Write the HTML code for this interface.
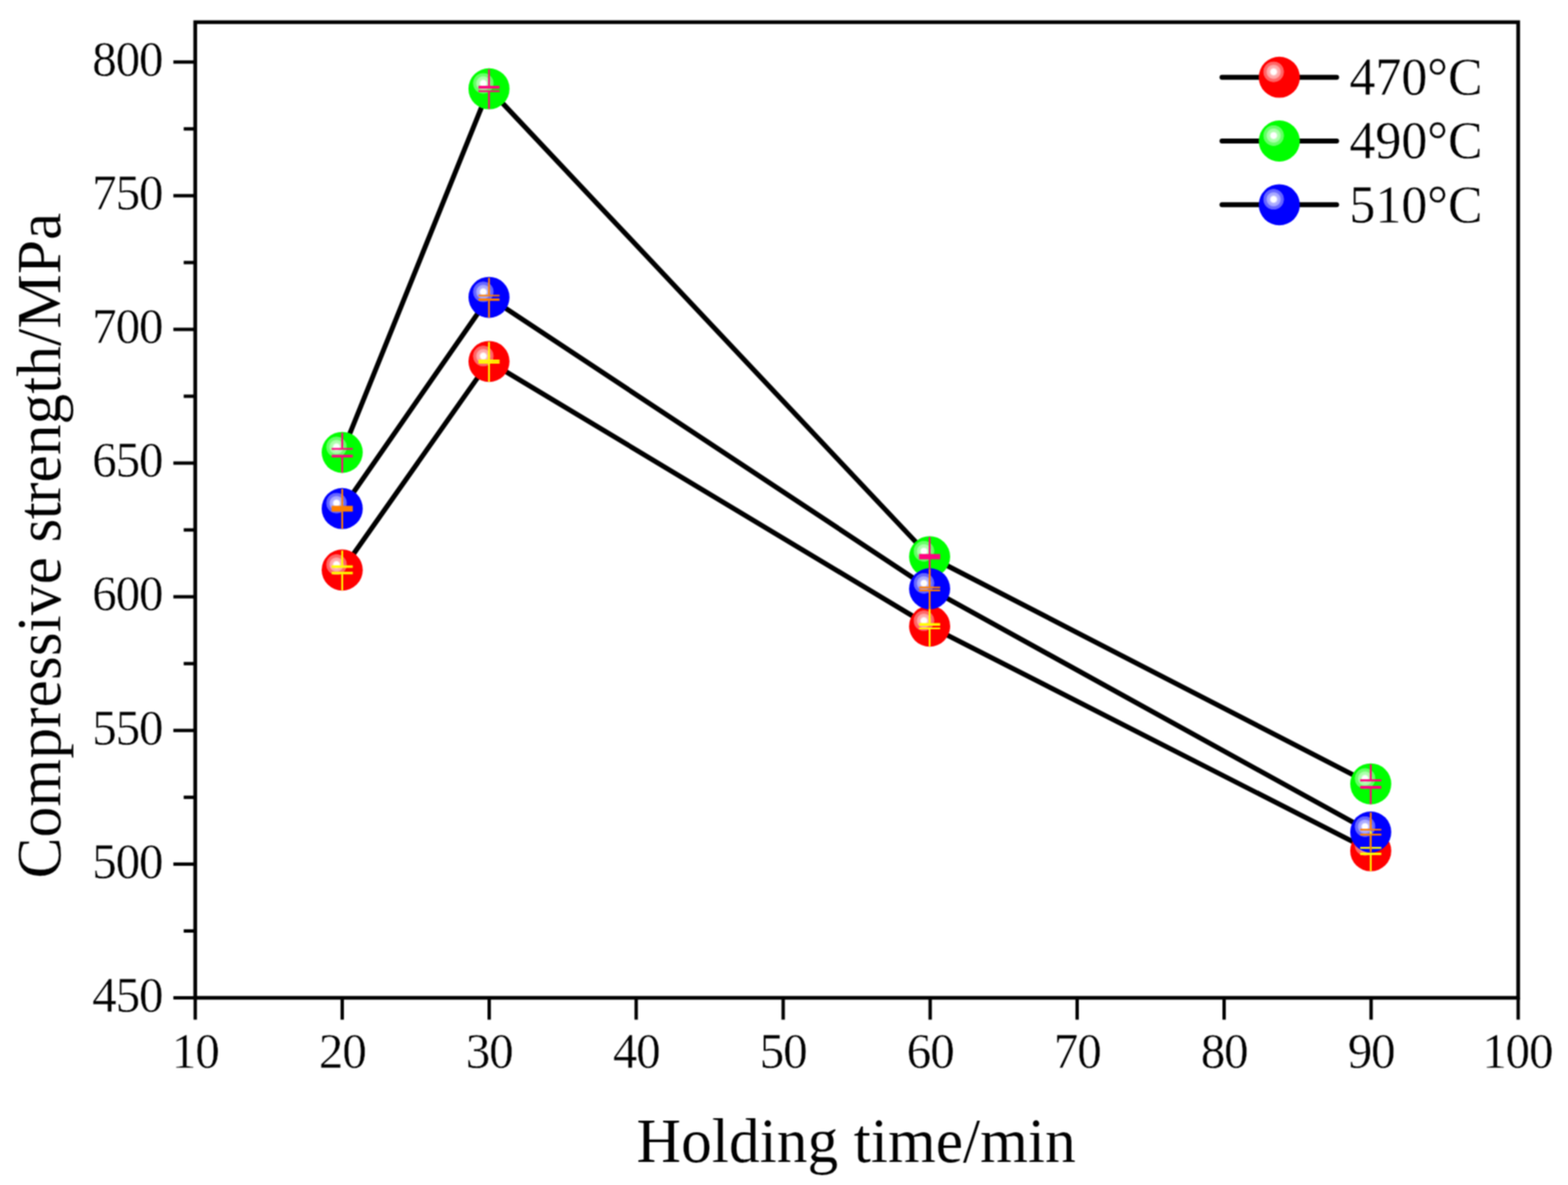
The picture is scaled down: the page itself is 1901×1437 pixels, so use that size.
<!DOCTYPE html>
<html lang="en"><head><meta charset="utf-8"><title>Compressive strength vs holding time</title>
<style>
html,body{margin:0;padding:0;background:#fff;}
body{width:1901px;height:1437px;}
svg{display:block;}
text{font-family:"Liberation Serif",serif;fill:#000;}
.tk{font-size:60.7px;letter-spacing:-1.35px;stroke:#fff;stroke-width:0.45px;}
.tt{font-size:76.6px;stroke:#fff;stroke-width:0.15px;}
.lg{font-size:64.7px;stroke:#fff;stroke-width:0.3px;}
</style></head><body>
<svg width="1901" height="1437" viewBox="0 0 1901 1437" role="img" aria-label="Compressive strength versus holding time at 470, 490 and 510 degrees Celsius">
<defs>
<radialGradient id="hl" cx="0.5" cy="0.5" r="0.5"><stop offset="0" stop-color="#fff" stop-opacity="1"/><stop offset="0.25" stop-color="#fff" stop-opacity="1"/><stop offset="0.39" stop-color="#fff" stop-opacity="0.70"/><stop offset="0.62" stop-color="#fff" stop-opacity="0.64"/><stop offset="0.70" stop-color="#fff" stop-opacity="0.42"/><stop offset="0.94" stop-color="#fff" stop-opacity="0.37"/><stop offset="1" stop-color="#fff" stop-opacity="0"/></radialGradient>
<filter id="soft" filterUnits="userSpaceOnUse" x="0" y="0" width="1901" height="1437" color-interpolation-filters="sRGB"><feConvolveMatrix order="3" kernelMatrix="1 2 1 2 4 2 1 2 1" divisor="16" edgeMode="duplicate" preserveAlpha="false"/></filter>
</defs>
<g filter="url(#soft)">
<rect width="1901" height="1437" fill="#fff"/>
<g stroke="#000" stroke-width="4.5" fill="none" stroke-linecap="butt">
<rect x="236.7" y="26.9" width="1603.9" height="1183.1"/>
<line stroke-width="4.1" x1="236.7" y1="1210.0" x2="236.7" y2="1236.5"/>
<line stroke-width="4.1" x1="414.9" y1="1210.0" x2="414.9" y2="1236.5"/>
<line stroke-width="4.1" x1="593.1" y1="1210.0" x2="593.1" y2="1236.5"/>
<line stroke-width="4.1" x1="771.3" y1="1210.0" x2="771.3" y2="1236.5"/>
<line stroke-width="4.1" x1="949.5" y1="1210.0" x2="949.5" y2="1236.5"/>
<line stroke-width="4.1" x1="1127.7" y1="1210.0" x2="1127.7" y2="1236.5"/>
<line stroke-width="4.1" x1="1305.9" y1="1210.0" x2="1305.9" y2="1236.5"/>
<line stroke-width="4.1" x1="1484.1" y1="1210.0" x2="1484.1" y2="1236.5"/>
<line stroke-width="4.1" x1="1662.3" y1="1210.0" x2="1662.3" y2="1236.5"/>
<line stroke-width="4.1" x1="1840.6" y1="1210.0" x2="1840.6" y2="1236.5"/>
<line stroke-width="4.1" x1="210.2" y1="1210.0" x2="236.7" y2="1210.0"/>
<line stroke-width="4.1" x1="222.7" y1="1128.94" x2="236.7" y2="1128.94"/>
<line stroke-width="4.1" x1="210.2" y1="1047.89" x2="236.7" y2="1047.89"/>
<line stroke-width="4.1" x1="222.7" y1="966.84" x2="236.7" y2="966.84"/>
<line stroke-width="4.1" x1="210.2" y1="885.78" x2="236.7" y2="885.78"/>
<line stroke-width="4.1" x1="222.7" y1="804.73" x2="236.7" y2="804.73"/>
<line stroke-width="4.1" x1="210.2" y1="723.67" x2="236.7" y2="723.67"/>
<line stroke-width="4.1" x1="222.7" y1="642.62" x2="236.7" y2="642.62"/>
<line stroke-width="4.1" x1="210.2" y1="561.56" x2="236.7" y2="561.56"/>
<line stroke-width="4.1" x1="222.7" y1="480.5" x2="236.7" y2="480.5"/>
<line stroke-width="4.1" x1="210.2" y1="399.45" x2="236.7" y2="399.45"/>
<line stroke-width="4.1" x1="222.7" y1="318.39" x2="236.7" y2="318.39"/>
<line stroke-width="4.1" x1="210.2" y1="237.34" x2="236.7" y2="237.34"/>
<line stroke-width="4.1" x1="222.7" y1="156.29" x2="236.7" y2="156.29"/>
<line stroke-width="4.1" x1="210.2" y1="75.23" x2="236.7" y2="75.23"/>
</g>
<g class="tk" text-anchor="middle">
<text transform="translate(236.7 1295.2) scale(0.98 1)">10</text>
<text transform="translate(414.9 1295.2) scale(0.98 1)">20</text>
<text transform="translate(593.1 1295.2) scale(0.98 1)">30</text>
<text transform="translate(771.3 1295.2) scale(0.98 1)">40</text>
<text transform="translate(949.5 1295.2) scale(0.98 1)">50</text>
<text transform="translate(1127.7 1295.2) scale(0.98 1)">60</text>
<text transform="translate(1305.9 1295.2) scale(0.98 1)">70</text>
<text transform="translate(1484.1 1295.2) scale(0.98 1)">80</text>
<text transform="translate(1662.3 1295.2) scale(0.98 1)">90</text>
<text transform="translate(1839.5 1295.2) scale(0.98 1)">100</text>
</g>
<g class="tk" text-anchor="end">
<text transform="translate(197.0 1226.8) scale(0.98 1)">450</text>
<text transform="translate(197.0 1064.69) scale(0.98 1)">500</text>
<text transform="translate(197.0 902.58) scale(0.98 1)">550</text>
<text transform="translate(197.0 740.47) scale(0.98 1)">600</text>
<text transform="translate(197.0 578.36) scale(0.98 1)">650</text>
<text transform="translate(197.0 416.25) scale(0.98 1)">700</text>
<text transform="translate(197.0 254.14) scale(0.98 1)">750</text>
<text transform="translate(197.0 92.03) scale(0.98 1)">800</text>
</g>
<text class="tt" text-anchor="middle" transform="translate(1038.1 1408.6) scale(0.974 1)">Holding time/min</text>
<text class="tt" text-anchor="middle" dx="0 0 0 0 0 0 0 0 0 0 0 0 -1 -1 -1" transform="translate(73.2 661.5) rotate(-90) scale(0.974 1)">Compressive strength/MPa</text>
<g stroke="#000" stroke-width="6.0" fill="none" stroke-linejoin="round" stroke-linecap="round">
<polyline points="414.9,691.25 592.85,438.36 1127.05,759.33 1661.85,1031.68"/>
<polyline points="414.9,548.59 592.85,107.65 1127.05,675.04 1661.85,950.62"/>
<polyline points="414.9,616.68 592.85,360.54 1127.05,713.94 1661.85,1008.98"/>
<line x1="1481.5" y1="93.7" x2="1620.5" y2="93.7"/>
<line x1="1481.5" y1="171.0" x2="1620.5" y2="171.0"/>
<line x1="1481.5" y1="248.3" x2="1620.5" y2="248.3"/>
</g>
<g>
<circle cx="414.9" cy="691.25" r="24.9" fill="#ff0000"/><circle cx="408.0" cy="684.65" r="12.9" fill="url(#hl)"/>
<circle cx="592.85" cy="438.36" r="24.9" fill="#ff0000"/><circle cx="585.95" cy="431.76" r="12.9" fill="url(#hl)"/>
<circle cx="1127.05" cy="759.33" r="24.9" fill="#ff0000"/><circle cx="1120.15" cy="752.73" r="12.9" fill="url(#hl)"/>
<circle cx="1661.85" cy="1031.68" r="24.9" fill="#ff0000"/><circle cx="1654.95" cy="1025.08" r="12.9" fill="url(#hl)"/>
<circle cx="414.9" cy="548.59" r="24.9" fill="#00ff00"/><circle cx="408.0" cy="541.99" r="12.9" fill="url(#hl)"/>
<circle cx="592.85" cy="107.65" r="24.9" fill="#00ff00"/><circle cx="585.95" cy="101.05" r="12.9" fill="url(#hl)"/>
<circle cx="1127.05" cy="675.04" r="24.9" fill="#00ff00"/><circle cx="1120.15" cy="668.44" r="12.9" fill="url(#hl)"/>
<circle cx="1661.85" cy="950.62" r="24.9" fill="#00ff00"/><circle cx="1654.95" cy="944.02" r="12.9" fill="url(#hl)"/>
<circle cx="414.9" cy="616.68" r="24.9" fill="#0000ff"/><circle cx="408.0" cy="610.08" r="12.9" fill="url(#hl)"/>
<circle cx="592.85" cy="360.54" r="24.9" fill="#0000ff"/><circle cx="585.95" cy="353.94" r="12.9" fill="url(#hl)"/>
<circle cx="1127.05" cy="713.94" r="24.9" fill="#0000ff"/><circle cx="1120.15" cy="707.34" r="12.9" fill="url(#hl)"/>
<circle cx="1661.85" cy="1008.98" r="24.9" fill="#0000ff"/><circle cx="1654.95" cy="1002.38" r="12.9" fill="url(#hl)"/>
<circle cx="1551.0" cy="93.7" r="24.9" fill="#ff0000"/><circle cx="1544.1" cy="87.1" r="12.9" fill="url(#hl)"/>
<circle cx="1551.0" cy="171.0" r="24.9" fill="#00ff00"/><circle cx="1544.1" cy="164.4" r="12.9" fill="url(#hl)"/>
<circle cx="1551.0" cy="248.3" r="24.9" fill="#0000ff"/><circle cx="1544.1" cy="241.7" r="12.9" fill="url(#hl)"/>
</g>
<g>
<g fill="#ffff00">
<rect x="413.8" y="667.55" width="2.2" height="18.25"/>
<rect x="402.1" y="685.6" width="25.6" height="3.0"/>
<rect x="402.1" y="693.4" width="25.6" height="3.0"/>
<rect x="413.8" y="696.2" width="2.2" height="19.65"/>
<rect x="591.75" y="414.66" width="2.2" height="21.64"/>
<rect x="580.05" y="436.1" width="25.6" height="2.4"/>
<rect x="580.05" y="438.5" width="25.6" height="2.4"/>
<rect x="591.75" y="440.7" width="2.2" height="22.26"/>
<rect x="1125.95" y="735.63" width="2.2" height="20.17"/>
<rect x="1114.25" y="755.6" width="25.6" height="3.2"/>
<rect x="1114.25" y="761.0" width="25.6" height="2.0"/>
<rect x="1125.95" y="762.8" width="2.2" height="21.13"/>
<rect x="1660.75" y="1007.98" width="2.2" height="19.22"/>
<rect x="1649.05" y="1027.0" width="25.6" height="2.3"/>
<rect x="1649.05" y="1034.0" width="25.6" height="2.9"/>
<rect x="1660.75" y="1036.7" width="2.2" height="19.58"/>
</g>
<g fill="#ff0080">
<rect x="413.8" y="524.89" width="2.2" height="18.61"/>
<rect x="402.1" y="543.3" width="25.6" height="2.1"/>
<rect x="402.1" y="551.5" width="25.6" height="3.2"/>
<rect x="413.8" y="554.5" width="2.2" height="18.69"/>
<rect x="591.75" y="83.95" width="2.2" height="20.35"/>
<rect x="580.05" y="104.1" width="25.6" height="3.4"/>
<rect x="580.05" y="109.5" width="25.6" height="2.1"/>
<rect x="591.75" y="111.4" width="2.2" height="20.85"/>
<rect x="1125.95" y="651.34" width="2.2" height="20.66"/>
<rect x="1114.25" y="671.8" width="25.6" height="3.2"/>
<rect x="1114.25" y="675.0" width="25.6" height="3.3"/>
<rect x="1125.95" y="678.1" width="2.2" height="21.54"/>
<rect x="1660.75" y="926.92" width="2.2" height="18.28"/>
<rect x="1649.05" y="945.0" width="25.6" height="2.6"/>
<rect x="1649.05" y="953.0" width="25.6" height="3.6"/>
<rect x="1660.75" y="956.4" width="2.2" height="18.82"/>
</g>
<g fill="#ff8000">
<rect x="413.8" y="592.98" width="2.2" height="20.62"/>
<rect x="402.1" y="613.4" width="25.6" height="3.6"/>
<rect x="402.1" y="617.0" width="25.6" height="3.4"/>
<rect x="413.8" y="620.2" width="2.2" height="21.08"/>
<rect x="591.75" y="336.84" width="2.2" height="20.86"/>
<rect x="580.05" y="357.5" width="25.6" height="1.9"/>
<rect x="580.05" y="361.9" width="25.6" height="2.9"/>
<rect x="591.75" y="364.6" width="2.2" height="20.54"/>
<rect x="1125.95" y="690.24" width="2.2" height="21.36"/>
<rect x="1114.25" y="711.4" width="25.6" height="2.2"/>
<rect x="1114.25" y="714.9" width="25.6" height="2.1"/>
<rect x="1125.95" y="716.8" width="2.2" height="21.74"/>
<rect x="1660.75" y="985.28" width="2.2" height="20.02"/>
<rect x="1649.05" y="1005.1" width="25.6" height="2.0"/>
<rect x="1649.05" y="1011.0" width="25.6" height="2.2"/>
<rect x="1660.75" y="1013.0" width="2.2" height="20.58"/>
</g>
</g>
<g class="lg">
<text transform="translate(1636.0 115.0) scale(0.972 1)">470°C</text>
<text transform="translate(1636.0 192.3) scale(0.972 1)">490°C</text>
<text transform="translate(1636.0 269.6) scale(0.972 1)">510°C</text>
</g>
</g>
</svg>
</body></html>
